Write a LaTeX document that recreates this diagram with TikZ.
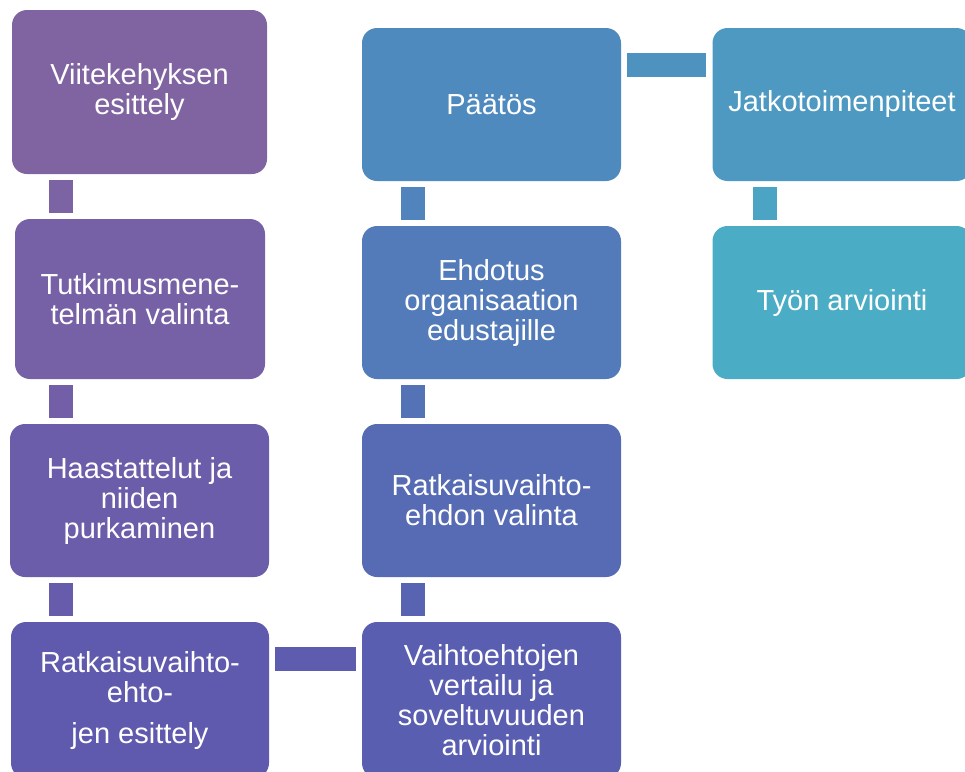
\documentclass[tikz,border=0pt]{standalone}
\usepackage{fontspec}
\setmainfont{Liberation Sans}
\definecolor{vari0}{HTML}{8064A2}
\definecolor{vari1}{HTML}{7661A6}
\definecolor{vari2}{HTML}{6B5DA9}
\definecolor{vari3}{HTML}{605AAE}
\definecolor{vari4}{HTML}{5A5EB1}
\definecolor{vari5}{HTML}{566BB4}
\definecolor{vari6}{HTML}{537BBA}
\definecolor{vari7}{HTML}{4F8ABE}
\definecolor{vari8}{HTML}{4E99C2}
\definecolor{vari9}{HTML}{4BACC6}
\begin{document}
\begin{tikzpicture}[x=1pt,y=-1pt]
				% Tyylit
				\tikzstyle{laatikko}=[rectangle,rounded corners=15pt,text=white,align=center,inner sep=0pt,
					font=\fontsize{29}{30}\selectfont,minimum width=259pt,minimum height=153pt]
				\tikzstyle{yhdys}=[-,line width=24pt,line cap=butt,shorten <=6pt,shorten >=6pt]
				% Mitat
				\def\SarakeA{140}
				\def\SarakeB{491.5}
				\def\SarakeC{842}
				\def\Siirto{37pt}
				\clip (0,0) rectangle (965,771);
				% Yhdysviivojen sarakkeet
				\coordinate (XA) at (61,0);
				\coordinate (XB) at (413,0);
				\coordinate (XC) at (765,0);
				% Laatikot
				\node[laatikko,fill=vari0,minimum width=255pt,minimum height=164pt] (V) at (139.5,92) {Viitekehyksen\\esittely};
				\node[laatikko,fill=vari1,minimum width=250pt,minimum height=160pt] (T) at ({\SarakeA},299) {Tutkimusmene-\\telmän valinta};
				\node[laatikko,fill=vari2] (H) at (139.5,500.5) {Haastattelut ja\\niiden\\purkaminen};
				\node[laatikko,fill=vari3,minimum width=258pt,minimum height=156pt] (R) at ({\SarakeA},700) {Ratkaisuvaihto-\\ehto-\\[11pt]jen esittely};
				\node[laatikko,fill=vari4,minimum height=156pt] (Vt) at ({\SarakeB},700) {Vaihtoehtojen\\vertailu ja\\soveltuvuuden\\arviointi};
				\node[laatikko,fill=vari5] (Rv) at ({\SarakeB},500.5) {Ratkaisuvaihto-\\ehdon valinta};
				\node[laatikko,fill=vari6] (E) at ({\SarakeB},302.5) {Ehdotus\\organisaation\\edustajille};
				\node[laatikko,fill=vari7] (P) at ({\SarakeB},104.5) {Päätös};
				\node[laatikko,fill=vari8] (J) at ({\SarakeC},104.5) {Jatkotoimenpiteet};
				\node[laatikko,fill=vari9] (Ty) at ({\SarakeC},302.5) {Työn arviointi};
				% Yhdysviivat
				\draw[yhdys,vari0!60!vari1] (V.south -| XA)--(T.north -| XA);
				\draw[yhdys,vari1!60!vari2] (T.south -| XA)--(H.north -| XA);
				\draw[yhdys,vari2!60!vari3] (H.south -| XA)--(R.north -| XA);
				\draw[yhdys,vari3!50!vari4] ([yshift=-\Siirto]R.north east)--([yshift=-\Siirto]Vt.north west);
				\draw[yhdys,vari4!50!vari5] (Vt.north -| XB)--(Rv.south -| XB);
				\draw[yhdys,vari5!50!vari6] (Rv.north -| XB)--(E.south -| XB);
				\draw[yhdys,vari6!50!vari7] (E.north -| XB)--(P.south -| XB);
				\draw[yhdys,vari7!40!vari8] ([yshift=-\Siirto]P.north east)--([yshift=-\Siirto]J.north west);
				\draw[yhdys,vari8!40!vari9] (J.south -| XC)--(Ty.north -| XC);
			\end{tikzpicture}
\end{document}
